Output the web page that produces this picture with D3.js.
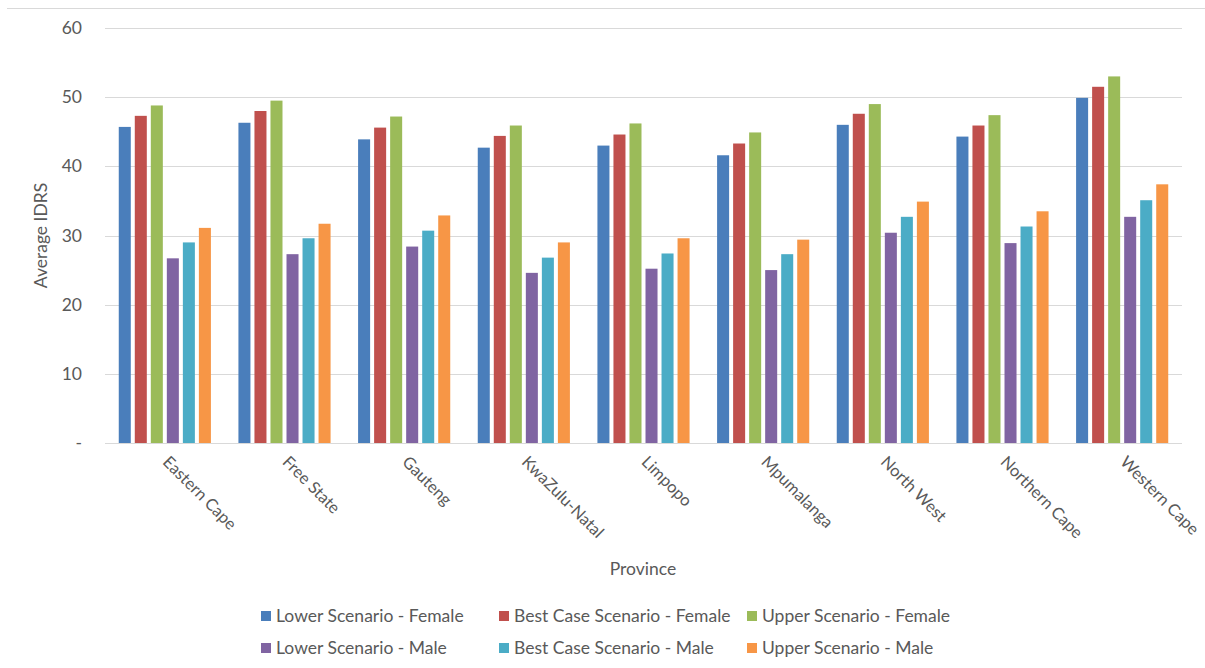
<!DOCTYPE html>
<html>
<head>
<meta charset="utf-8">
<script src="https://cdn.jsdelivr.net/npm/d3@7/dist/d3.min.js"></script>
<style>
  html, body { margin: 0; padding: 0; background: #ffffff; }
  svg { display: block; }
  text { font-family: Lato, "Open Sans", sans-serif; fill: #595959; }
</style>
</head>
<body>
<svg id="chart" width="1205" height="668"></svg>
<script>
// Provinces along the x axis
const provinces = ["Eastern Cape", "Free State", "Gauteng", "KwaZulu-Natal", "Limpopo",
                   "Mpumalanga", "North West", "Northern Cape", "Western Cape"];

// Series names, in legend order
const seriesNames = ["Lower Scenario - Female", "Best Case Scenario - Female", "Upper Scenario - Female",
                     "Lower Scenario - Male", "Best Case Scenario - Male", "Upper Scenario - Male"];

// Average IDRS per province for each scenario
const lowerFemale = [45.7, 46.3, 43.9, 42.7, 43.0, 41.6, 46.0, 44.3, 49.9];
const bestFemale  = [47.3, 48.0, 45.6, 44.4, 44.6, 43.3, 47.6, 45.9, 51.5];
const upperFemale = [48.8, 49.5, 47.2, 45.9, 46.2, 44.9, 49.0, 47.4, 53.0];
const lowerMale   = [26.7, 27.3, 28.4, 24.6, 25.2, 25.0, 30.4, 28.9, 32.7];
const bestMale    = [29.0, 29.6, 30.7, 26.8, 27.4, 27.3, 32.7, 31.3, 35.1];
const upperMale   = [31.1, 31.7, 32.9, 29.0, 29.6, 29.4, 34.9, 33.5, 37.4];

const yTicks = [0, 10, 20, 30, 40, 50, 60];
const colors = ["#4a7ebb", "#c0504d", "#9bbb59", "#8064a2", "#4bacc6", "#f79646"];

const seriesValues = [lowerFemale, bestFemale, upperFemale, lowerMale, bestMale, upperMale];

const FONT = "17.5px";
const XFONT = "16.5px";

const svg = d3.select("#chart");
const margin = { left: 105, right: 23, top: 28, bottom: 225 };
const W = 1205, H = 668;
const plotW = W - margin.left - margin.right;
const plotH = H - margin.top - margin.bottom;

// thin frame line across the top
svg.append("line")
  .attr("x1", 7).attr("x2", W).attr("y1", 8.5).attr("y2", 8.5)
  .attr("stroke", "#d9d9d9").attr("stroke-width", 1);

const g = svg.append("g").attr("transform", `translate(${margin.left},${margin.top})`);

const x0 = d3.scaleBand().domain(provinces).range([0, plotW])
  .paddingInner(0.23).paddingOuter(0.115);
const x1 = d3.scaleBand().domain(d3.range(seriesNames.length)).range([0, x0.bandwidth()])
  .paddingInner(0.25).paddingOuter(0);
const y = d3.scaleLinear().domain([0, 60]).range([plotH, 0]);

// horizontal gridlines
g.append("g")
  .selectAll("line")
  .data(yTicks)
  .join("line")
  .attr("x1", 0).attr("x2", plotW)
  .attr("y1", d => Math.round(y(d)) + 0.5).attr("y2", d => Math.round(y(d)) + 0.5)
  .attr("stroke", "#d9d9d9").attr("stroke-width", 1);

// y axis labels
const yAxis = d3.axisLeft(y).tickValues(yTicks)
  .tickFormat(d => d === 0 ? "-" : d3.format("d")(d))
  .tickSize(0).tickPadding(23);
const yg = g.append("g").call(yAxis);
yg.select(".domain").remove();
yg.selectAll("text").style("font-size", FONT).style("font-family", "Lato, 'Open Sans', sans-serif")
  .attr("fill", "#595959");

// bars
const groups = g.append("g").selectAll("g")
  .data(provinces)
  .join("g")
  .attr("transform", d => `translate(${x0(d)},0)`);

groups.selectAll("rect")
  .data((p, i) => seriesValues.map((vals, s) => ({ s, v: vals[i] })))
  .join("rect")
  .attr("x", d => x1(d.s))
  .attr("width", x1.bandwidth())
  .attr("y", d => y(d.v))
  .attr("height", d => y(0) - y(d.v))
  .attr("fill", d => colors[d.s]);

// x axis labels, rotated
const xAxis = d3.axisBottom(x0).tickSize(0).tickPadding(0);
const xg = g.append("g").attr("transform", `translate(0,${plotH})`).call(xAxis);
xg.select(".domain").remove();
xg.selectAll("text")
  .style("font-size", XFONT).style("font-family", "Lato, 'Open Sans', sans-serif")
  .attr("fill", "#595959")
  .attr("text-anchor", "start")
  .attr("dy", "0")
  .attr("transform", "translate(-3,20) rotate(45)");

// axis titles
svg.append("text")
  .attr("transform", `translate(47,${margin.top + plotH / 2}) rotate(-90)`)
  .attr("text-anchor", "middle")
  .style("font-size", FONT)
  .text("Average IDRS");

svg.append("text")
  .attr("x", 643).attr("y", 575)
  .attr("text-anchor", "middle")
  .style("font-size", FONT)
  .text("Province");

// legend: two rows of three
const legendX = [261, 499, 747];
const legendY = [616, 648];
const legend = svg.append("g").selectAll("g")
  .data(seriesNames)
  .join("g")
  .attr("transform", (d, i) => `translate(${legendX[i % 3]},${legendY[Math.floor(i / 3)]})`);
legend.append("rect")
  .attr("x", 0).attr("y", -5).attr("width", 10).attr("height", 10)
  .attr("fill", (d, i) => colors[i]);
legend.append("text")
  .attr("x", 15).attr("y", 0).attr("dy", "0.35em")
  .style("font-size", FONT)
  .text(d => d);
</script>
</body>
</html>
